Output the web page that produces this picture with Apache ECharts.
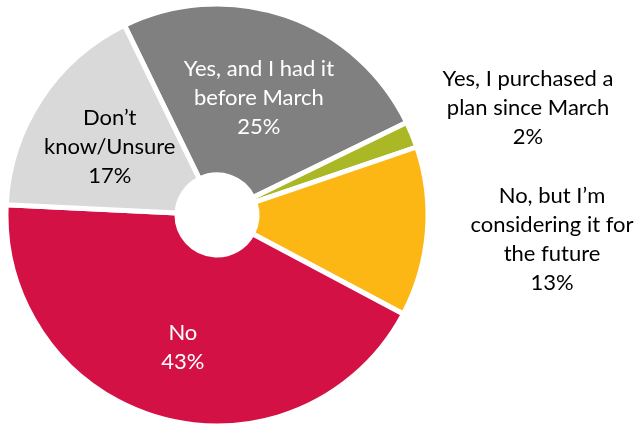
<!DOCTYPE html>
<html>
<head>
<meta charset="utf-8">
<script src="https://cdn.jsdelivr.net/npm/echarts@6/dist/echarts.min.js"></script>
<style>html,body{margin:0;padding:0;background:#fff}#c{width:637px;height:427px}</style>
</head>
<body>
<div id="c"></div>
<script>
const categories = [
  'Yes, and I had it\nbefore March',
  'Yes, I purchased a\nplan since March',
  'No, but I\u2019m\nconsidering it for\nthe future',
  'No',
  'Don\u2019t\nknow/Unsure'
];
const values = [25, 2, 13, 43, 17];
const colors = ['#808080', '#aab825', '#fcb714', '#d31145', '#d9d9d9'];
const labelColors = ['#ffffff', '#000000', '#000000', '#ffffff', '#000000'];
const outside = [false, true, true, false, false];

const chart = echarts.init(document.getElementById('c'), null, {renderer: 'canvas'});
const data = categories.map((c, i) => ({
  name: c,
  value: values[i],
  itemStyle: {color: colors[i]},
  label: {
    color: labelColors[i],
    position: outside[i] ? 'outside' : 'inside'
  },
  labelLine: {show: false}
}));
const outPos = {1: [528, 108], 2: [552, 239]};
const inDy = {0: 4, 3: 9, 4: 3};
chart.setOption({
  animation: false,
  series: [{
    type: 'pie',
    center: [217, 215],
    radius: [40, 211],
    startAngle: 116,
    clockwise: true,
    avoidLabelOverlap: false,
    itemStyle: {borderColor: '#ffffff', borderWidth: 5},
    label: {
      show: true,
      fontFamily: 'Lato',
      fontSize: 22,
      lineHeight: 29,
      align: 'center',
      formatter: p => p.name + '\n' + p.value + '%'
    },
    labelLayout: function (p) {
      if (outPos[p.dataIndex]) {
        return {x: outPos[p.dataIndex][0], y: outPos[p.dataIndex][1], align: 'center', verticalAlign: 'middle'};
      }
      return {dy: inDy[p.dataIndex] || 0};
    },
    data: data
  }]
});
</script>
</body>
</html>
